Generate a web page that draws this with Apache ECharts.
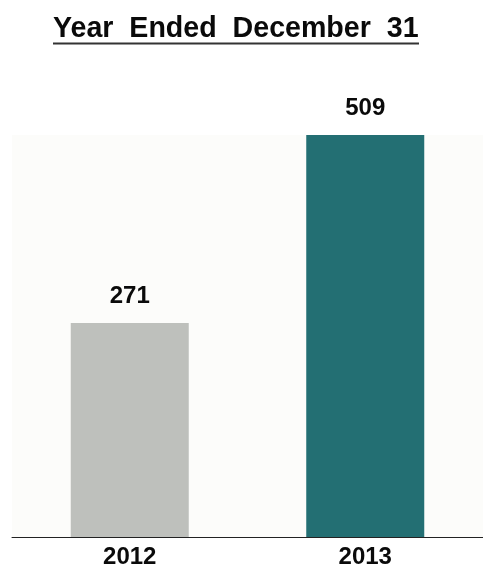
<!DOCTYPE html>
<html><head><meta charset="utf-8">
<script src="https://cdn.jsdelivr.net/npm/echarts@6/dist/echarts.min.js"></script>
<style>html,body{margin:0;padding:0;background:#fff}#c{width:483px;height:572px}</style>
</head><body><div id="c"></div>
<script>
const categories = ['2012', '2013'];
const values = [271, 509];
const barColors = ['#bec0bc', '#236f73'];

const chart = echarts.init(document.getElementById('c'), null, {renderer: 'canvas'});
chart.setOption({
  animation: false,
  title: {
    text: 'Year  Ended  December  31',
    left: 48,
    top: 10,
    textStyle: {fontFamily: 'Liberation Sans', fontSize: 28.6, fontWeight: 'bold', color: '#0a0a0a'}
  },
  graphic: [{
    type: 'line',
    shape: {x1: 53, y1: 43.5, x2: 419, y2: 43.5},
    style: {stroke: '#333', lineWidth: 2}
  }],
  grid: {left: 12, right: 0, top: 135, bottom: 35, show: true, backgroundColor: '#fcfcfa', borderWidth: 0},
  xAxis: {
    type: 'category',
    data: categories,
    axisLine: {lineStyle: {color: '#222', width: 1}},
    axisTick: {show: false},
    axisLabel: {margin: 8, fontFamily: 'Liberation Sans', fontSize: 24, fontWeight: 'bold', color: '#0a0a0a'}
  },
  yAxis: {type: 'value', min: 0, max: 509, show: false, splitLine: {show: false}},
  series: [{
    type: 'bar',
    barWidth: 118,
    data: values.map((v, i) => ({value: v, itemStyle: {color: barColors[i]}})),
    label: {show: true, position: 'top', distance: 15, fontFamily: 'Liberation Sans', fontSize: 24, fontWeight: 'bold', color: '#0a0a0a'}
  }]
});
</script></body></html>
